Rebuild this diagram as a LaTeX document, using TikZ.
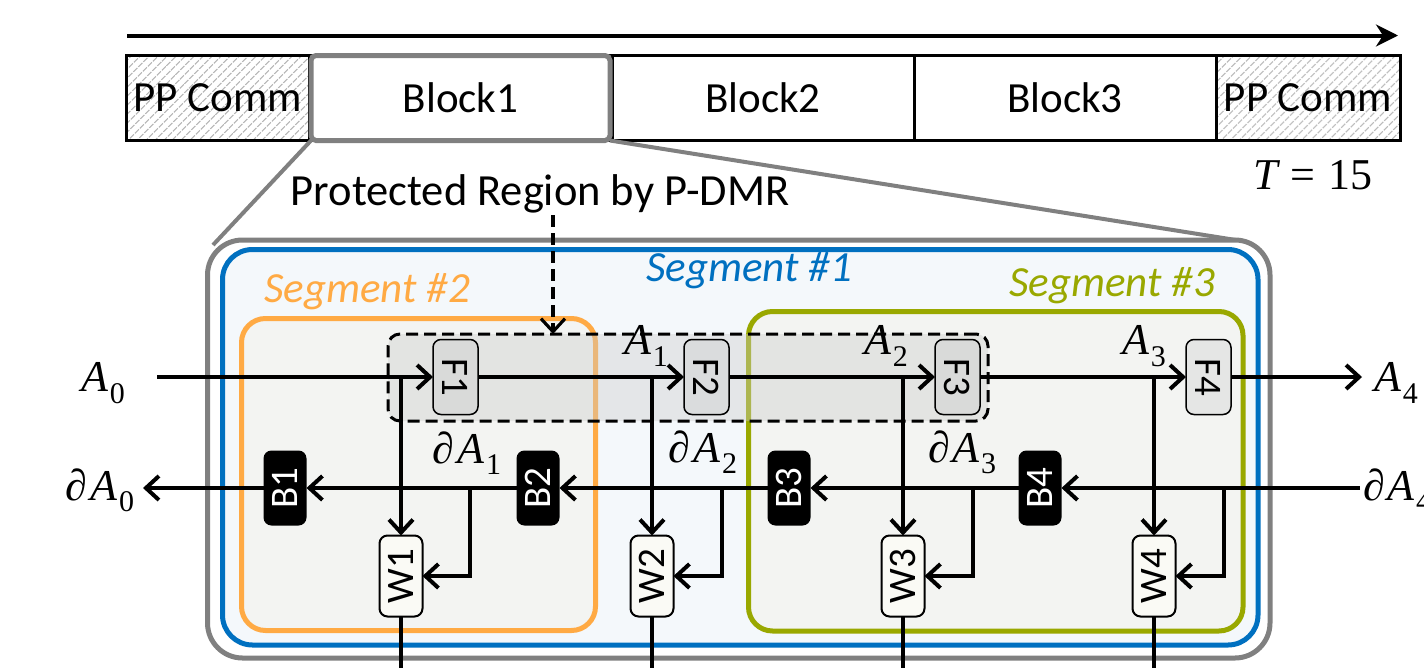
\RequirePackage{fix-cm}
\documentclass[tikz,border=0pt]{standalone}
\usepackage[no-math]{fontspec}
\setmainfont{Carlito}
\newfontfamily\symfont{Liberation Serif}
\usetikzlibrary{arrows.meta,patterns.meta,calc}

\definecolor{segblue}{HTML}{0070C0}
\definecolor{segorange}{HTML}{FFAA44}
\definecolor{seggreen}{HTML}{99A800}
\definecolor{framegray}{HTML}{808080}
\definecolor{bluefill}{HTML}{F4F8FB}
\definecolor{segfill}{HTML}{F3F4F2}
\definecolor{hatchgray}{HTML}{B8B8B8}
\definecolor{wfill}{HTML}{FAFAF5}

% italic variable with an upright index
\newcommand\var[2]{{\symfont\itshape #1}\kern0.04em\raisebox{-0.26em}{\fontsize{30}{32}\selectfont\symfont #2}}
\newcommand\grad[2]{{\symfont\itshape ∂\kern0.06em#1}\kern0.04em\raisebox{-0.26em}{\fontsize{30}{32}\selectfont\symfont #2}}

\begin{document}
\begin{tikzpicture}[x=1pt,y=-1pt,
  txt/.style={font=\fontsize{44.5}{50}\selectfont},
  mth/.style={font=\fontsize{44}{50}\selectfont, inner sep=0pt},
  seglabel/.style={font=\fontsize{43}{50}\selectfont\itshape},
  cell/.style={draw, line width=3pt, minimum height=85pt, inner sep=0pt, outer sep=0pt,
               font=\fontsize{43}{50}\selectfont},
  ppcell/.style={cell, preaction={fill=white},
               pattern={Lines[angle=45, distance=6.5pt, line width=1.3pt]}, pattern color=hatchgray},
  flow/.style={line width=4pt},
  tip/.style={-{Straight Barb[length=13pt, width=24pt]}},
  opbox/.style={rounded corners=8pt, inner sep=0pt, outer sep=0pt,
               font=\fontsize{39}{44}\selectfont},
  fbox/.style={opbox, draw, line width=1.5pt, fill=black!25, fill opacity=0.25,
               text opacity=1, minimum width=45pt, minimum height=75pt},
  bbox/.style={opbox, fill=black, text=white, minimum width=43pt, minimum height=75pt},
  wbox/.style={opbox, draw, line width=2pt, fill=wfill, minimum width=43pt, minimum height=81pt},
  region/.style={line width=5pt, inner sep=0pt, outer sep=0pt},
  guard/.style={draw, line width=3pt, dash pattern=on 12pt off 6pt, rounded corners=12pt,
               fill=black!20, fill opacity=0.4, inner sep=0pt, outer sep=0pt}
]
\useasboundingbox (0,0) rectangle (1424,667);

% ---------- time line ----------
\coordinate (ts) at (127,35.5);
\coordinate (te) at (1398,35.5);
\draw[line width=4pt, -{Stealth[length=22pt, width=22pt, inset=7pt]}] (ts) -- (te);

\node[ppcell, minimum width=183pt] (pp1) at (217.5,98) {PP Comm};
\node[cell, minimum width=303pt] (blk1) at (460.5,98) {Block1};
\node[cell, minimum width=302pt] (blk2) at (763,98) {Block2};
\node[cell, minimum width=302pt] (blk3) at (1065,98) {Block3};
\node[ppcell, minimum width=184pt] (pp2) at (1308,98) {PP Comm};
\node[mth] (tval) at (1313,175) {{\symfont\itshape T}\kern0.3em{\symfont =}\kern0.3em{\symfont 15}};

% ---------- zoom into Block1 ----------
\node[draw=framegray, line width=5pt, rounded corners=5pt, minimum width=299pt,
      minimum height=85pt, inner sep=0pt, outer sep=0pt] (zsrc) at (460.5,98) {};
\coordinate (zl) at (213,245);
\coordinate (zr) at (1242,241);
\draw[framegray, line width=4pt] (zsrc.south west) -- (zl);
\draw[framegray, line width=4pt] (zsrc.south east) -- (zr);

\node[txt] (prot) at (540,194) {Protected Region by P-DMR};

% ---------- nested segments ----------
\node[region, draw=framegray, fill=white, rounded corners=35pt,
      minimum width=1062.5pt, minimum height=418pt] (outer) at (738.75,449) {};
\node[region, draw=segblue, fill=bluefill, rounded corners=30pt,
      minimum width=1035.5pt, minimum height=395.5pt] (seg1) at (740.25,447.25) {};
\node[region, draw=segorange, fill=segfill, rounded corners=24pt,
      minimum width=354pt, minimum height=312pt] (seg2) at (418.5,474.5) {};
\node[region, draw=seggreen, fill=segfill, rounded corners=24pt,
      minimum width=494.5pt, minimum height=319.5pt] (seg3) at (995.75,471.25) {};

\node[seglabel, text=segblue] at (749,271) {Segment \#1};
\node[seglabel, text=segorange] at (367,292) {Segment \#2};
\node[seglabel, text=seggreen] at (1112,286) {Segment \#3};

% protected (duplicated) region
\node[guard, minimum width=600pt, minimum height=87pt] (pdmr) at (688,377.5) {};
\coordinate (ps) at (553,215);
\draw[line width=3.2pt, dash pattern=on 12pt off 6pt, tip] (ps) -- (ps |- pdmr.north);

% ---------- operators ----------
\foreach \i/\x in {1/455.5,2/706.5,3/957.5,4/1208.5}
  \node[fbox] (F\i) at (\x,377) {\rotatebox{-90}{F\i}};
\foreach \i/\x in {1/285,2/538,3/789,4/1040}
  \node[bbox] (B\i) at (\x,488) {\rotatebox{90}{B\i}};
\foreach \i/\x in {1/401,2/652,3/903,4/1154}
  \node[wbox] (W\i) at (\x,576) {\rotatebox{90}{W\i}};

% forward pass
\coordinate (a0s) at (157,377);
\coordinate (a4e) at (1362,377);
\draw[flow, tip] (a0s) -- (F1.west);
\draw[flow, tip] (F1.east) -- (F2.west);
\draw[flow, tip] (F2.east) -- (F3.west);
\draw[flow, tip] (F3.east) -- (F4.west);
\draw[flow, tip] (F4.east) -- (a4e);

% backward pass
\coordinate (g4s) at (1360,488);
\coordinate (g0e) at (143,488);
\draw[flow, tip] (g4s) -- (B4.east);
\draw[flow, tip] (B4.west) -- (B3.east);
\draw[flow, tip] (B3.west) -- (B2.east);
\draw[flow, tip] (B2.west) -- (B1.east);
\draw[flow, tip] (B1.west) -- (g0e);

% weight-gradient inputs
\foreach \i/\bx in {1/470,2/722,3/973,4/1224}{
  \draw[flow, tip] (W\i |- F\i) -- (W\i.north);
  \coordinate (j\i) at (\bx,488);
  \draw[flow, tip] (j\i) |- (W\i.east);
  \coordinate (d\i) at ($(W\i.center)+(0,100)$);
  \draw[flow] (W\i.south) -- (d\i);
}

% ---------- activation labels ----------
\node[mth] at (103,383) {\var{A}{0}};
\node[mth] at (646,346) {\var{A}{1}};
\node[mth] at (886,346) {\var{A}{2}};
\node[mth] at (1144,346) {\var{A}{3}};
\node[mth] at (1396,383) {\var{A}{4}};
\node[mth] at (100,490) {\grad{A}{0}};
\node[mth] at (467,453) {\grad{A}{1}};
\node[mth] at (703,452) {\grad{A}{2}};
\node[mth] at (962,452) {\grad{A}{3}};
\node[mth, anchor=west] at (1363,490) {\grad{A}{4}};
\end{tikzpicture}
\end{document}
